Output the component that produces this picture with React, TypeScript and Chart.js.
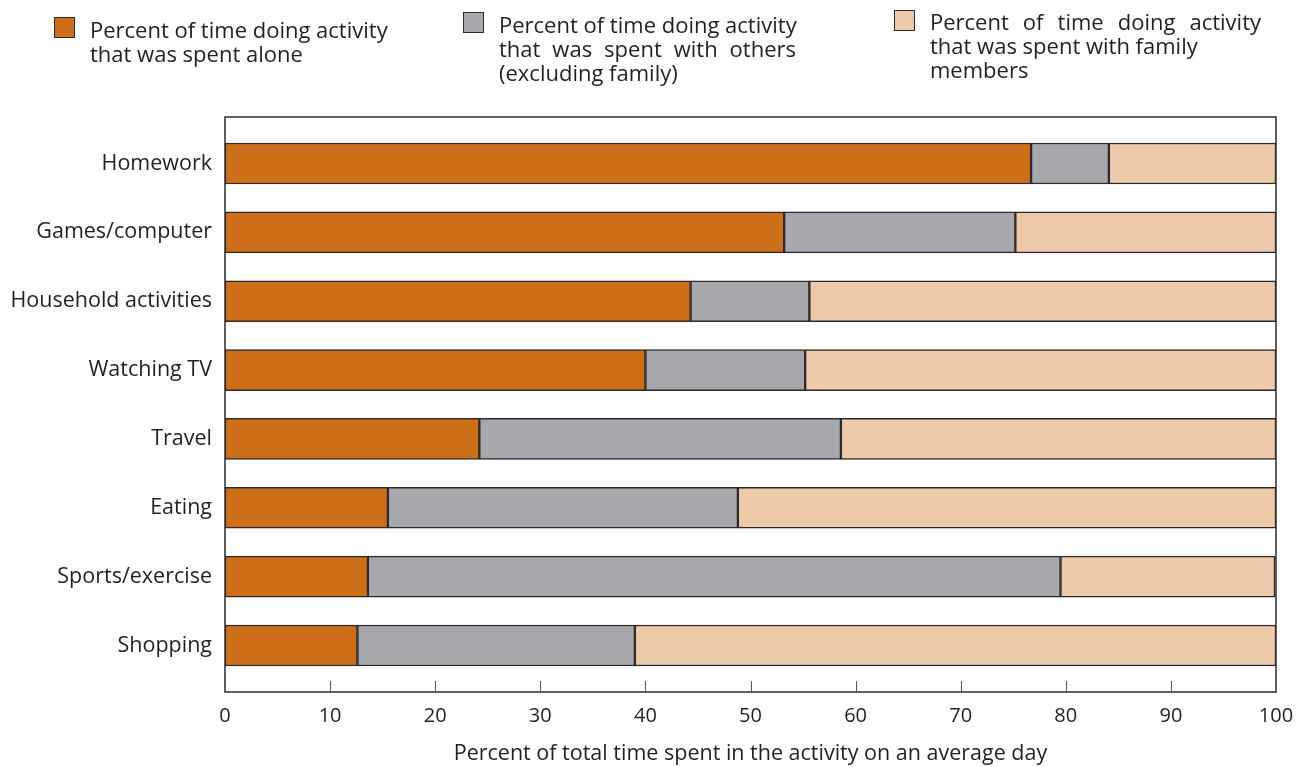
import React, { useEffect, useRef } from "react";
import { Chart, registerables } from "chart.js";

Chart.register(...registerables);

const categories = [
  "Homework",
  "Games/computer",
  "Household activities",
  "Watching TV",
  "Travel",
  "Eating",
  "Sports/exercise",
  "Shopping",
];
const aloneValues = [76.7, 53.2, 44.3, 40.0, 24.2, 15.5, 13.6, 12.6];
const othersValues = [7.4, 22.0, 11.3, 15.2, 34.4, 33.3, 65.9, 26.4];
const familyValues = [15.9, 24.8, 44.4, 44.8, 41.4, 51.2, 20.4, 61.0];
const xTicks = [0, 10, 20, 30, 40, 50, 60, 70, 80, 90, 100];

const seriesNames = [
  "Percent of time doing activity that was spent alone",
  "Percent of time doing activity that was spent with others (excluding family)",
  "Percent of time doing activity that was spent with family members",
];
const colors = ["#CD6F19", "#A7A8AB", "#EDCAA9"];
const edge = "#2E2A2B";
const ink = "#231F20";
const FONT = "'Open Sans', 'DejaVu Sans', sans-serif";

const framePlugin = {
  id: "frame",
  afterDatasetsDraw(chart: any) {
    const { ctx, chartArea: a, scales } = chart;
    const x = scales.x;
    ctx.save();
    ctx.strokeStyle = edge;
    ctx.lineWidth = 1.5;
    ctx.strokeRect(a.left, a.top, a.right - a.left, a.bottom - a.top);
    ctx.lineWidth = 1;
    ctx.strokeStyle = "#555";
    x.ticks.forEach((t: any) => {
      if (t.value > 0 && t.value < 100) {
        const px = Math.round(x.getPixelForValue(t.value)) + 0.5;
        ctx.beginPath();
        ctx.moveTo(px, a.bottom - 11);
        ctx.lineTo(px, a.bottom);
        ctx.stroke();
      }
    });
    ctx.restore();
  },
};

function LegendItem(props: {
  left: number;
  top: number;
  boxTop: number;
  color: string;
  lines: { text: string; width?: number }[];
}) {
  const { left, top, boxTop, color, lines } = props;
  return (
    <>
      <div
        style={{
          position: "absolute",
          left,
          top: boxTop,
          width: 21,
          height: 21,
          boxSizing: "border-box",
          background: color,
          border: `1.5px solid ${edge}`,
        }}
      />
      <div
        style={{
          position: "absolute",
          left: left + 36,
          top,
          fontFamily: FONT,
          fontSize: 22,
          lineHeight: "24px",
          color: ink,
          whiteSpace: "nowrap",
        }}
      >
        {lines.map((l, i) => (
          <div
            key={i}
            style={
              l.width
                ? { width: l.width, textAlign: "justify", textAlignLast: "justify" as any }
                : {}
            }
          >
            {l.text}
          </div>
        ))}
      </div>
    </>
  );
}

export default function App() {
  const canvasRef = useRef<HTMLCanvasElement | null>(null);

  useEffect(() => {
    const canvas = canvasRef.current;
    if (!canvas) return;
    const toPoints = (vals: number[]) => vals.map((v, i) => ({ x: v, y: i }));
    const chart = new Chart(canvas, {
      type: "bar",
      data: {
        datasets: [aloneValues, othersValues, familyValues].map((vals, k) => ({
          label: seriesNames[k],
          data: toPoints(vals) as any,
          backgroundColor: colors[k],
          borderColor: edge,
          borderWidth: 1.5,
          borderSkipped: false,
          barThickness: 41,
        })),
      },
      options: {
        indexAxis: "y",
        responsive: false,
        animation: false,
        layout: { padding: { top: 117, right: 30, left: 0, bottom: 0 } },
        plugins: {
          legend: { display: false },
          tooltip: { enabled: false },
        },
        scales: {
          x: {
            type: "linear",
            stacked: true,
            min: 0,
            max: 100,
            grid: { display: false },
            border: { display: false },
            afterBuildTicks: (s: any) => {
              s.ticks = xTicks.map((v) => ({ value: v }));
            },
            afterFit: (s: any) => {
              s.height = 75;
            },
            ticks: {
              color: ink,
              padding: 4,
              font: { family: FONT, size: 20 },
              maxRotation: 0,
            },
            title: {
              display: true,
              text: "Percent of total time spent in the activity on an average day",
              color: ink,
              font: { family: FONT, size: 21.5, lineHeight: 1.2 },
              padding: { top: 0, bottom: 0 },
            },
          },
          y: {
            type: "linear",
            stacked: true,
            reverse: true,
            offset: false,
            min: -0.675,
            max: 7.675,
            grid: { display: false, offset: false },
            border: { display: false },
            afterBuildTicks: (s: any) => {
              s.ticks = categories.map((_, i) => ({ value: i }));
            },
            afterFit: (s: any) => {
              s.width = 225;
            },
            ticks: {
              color: ink,
              padding: 5,
              font: { family: FONT, size: 21.5 },
              callback: (v: any) => categories[Math.round(Number(v))] ?? "",
            },
          },
        },
      },
      plugins: [framePlugin],
    });
    return () => chart.destroy();
  }, []);

  return (
    <div
      style={{
        position: "absolute",
        left: 0,
        top: 0,
        width: 1306,
        height: 767,
        background: "#fff",
        overflow: "hidden",
      }}
    >
      <canvas ref={canvasRef} width={1306} height={767} style={{ position: "absolute", left: 0, top: 0 }} />
      <LegendItem
        left={54}
        top={17}
        boxTop={17}
        color={colors[0]}
        lines={[{ text: "Percent of time doing activity" }, { text: "that was spent alone" }]}
      />
      <LegendItem
        left={463}
        top={12}
        boxTop={12}
        color={colors[1]}
        lines={[
          { text: "Percent of time doing activity", width: 297 },
          { text: "that was spent with others", width: 297 },
          { text: "(excluding family)" },
        ]}
      />
      <LegendItem
        left={894}
        top={9}
        boxTop={10}
        color={colors[2]}
        lines={[
          { text: "Percent of time doing activity", width: 331 },
          { text: "that was spent with family" },
          { text: "members" },
        ]}
      />
    </div>
  );
}
